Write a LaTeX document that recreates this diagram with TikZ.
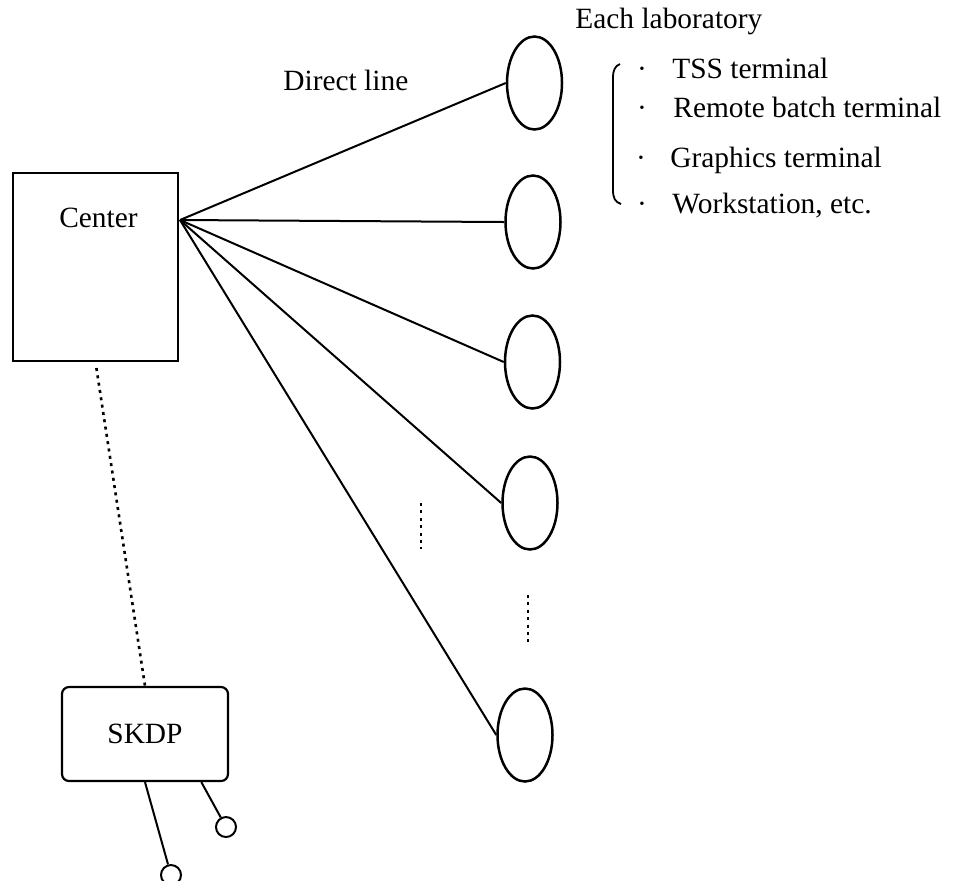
\documentclass[tikz,border=0pt]{standalone}
\usepackage{fontspec}
\setmainfont{Liberation Serif}
\usetikzlibrary{shapes.geometric,calc}
\begin{document}
\begin{tikzpicture}[x=0.5pt,y=-0.5pt,
  txt/.style={font=\fontsize{14.7}{17}\selectfont, inner sep=0pt},
  line/.style={line width=1pt},
  lab/.style={draw, ellipse, line width=1.25pt, minimum width=27.5pt, minimum height=46.5pt, inner sep=0pt},
  box/.style={draw, line width=1.1pt, inner sep=0pt},
  dots/.style={line width=1.3pt, dash pattern=on 1.5pt off 2.2pt},
  term/.style={draw, circle, line width=1pt, minimum size=10pt, inner sep=0pt}]
\useasboundingbox (0,0) rectangle (961,880);

% Center
\node[box, minimum width=82.5pt, minimum height=94pt] (centerbox) at (95.5,267) {};
\node[txt, anchor=base] (centerlabel) at (98.5,227) {Center};
\coordinate (fan) at (180,220);

% laboratories
\node[lab] (e1) at (534.5,83) {};
\node[lab] (e2) at (533,222) {};
\node[lab] (e3) at (532.5,362) {};
\node[lab] (e4) at (530,503) {};
\node[lab] (e5) at (525,735) {};

\draw[line] (fan) -- (e1.west);
\draw[line] (fan) -- (e2.west);
\draw[line] (fan) -- (e3.west);
\draw[line] (fan) -- (e4.west);
\draw[line] (fan) -- (e5.west);

% vertical dotted marks
\coordinate (d1a) at (421,503);
\coordinate (d1b) at (421,549);
\coordinate (d2a) at (528,595);
\coordinate (d2b) at (528,642);
\draw[dots] (d1a) -- (d1b);
\draw[dots] (d2a) -- (d2b);

% labels
\node[txt, anchor=base west] (direct) at (283,90) {Direct line};
\node[txt, anchor=base west] (each) at (575,28) {Each laboratory};

\node[txt, anchor=base] (b1) at (642,78) {·};
\node[txt, anchor=base] (b2) at (642,117) {·};
\node[txt, anchor=base] (b3) at (641,167) {·};
\node[txt, anchor=base] (b4) at (642,213) {·};
\node[txt, anchor=base west] (i1) at (672,78) {TSS terminal};
\node[txt, anchor=base west] (i2) at (673,117) {Remote batch terminal};
\node[txt, anchor=base west] (i3) at (670,167) {Graphics terminal};
\node[txt, anchor=base west] (i4) at (672,213) {Workstation, etc.};

% bracket
\draw[line width=0.9pt] (620,64) .. controls (615,66) and (613,70) .. (613,78) -- (613,190) .. controls (613,198) and (615,202) .. (621,204);

% SKDP
\node[box, rounded corners=3.5pt, minimum width=83pt, minimum height=47pt, font=\fontsize{14.7}{17}\selectfont] (skdp) at (145,734) {SKDP};
\draw[dots, shorten <=3pt] (centerbox.south) -- (skdp.north);

\node[term] (t1) at (171,875) {};
\node[term] (t2) at (226,827) {};
\coordinate (s2) at ($(skdp.south)!0.67!(skdp.south east)$);
\draw[line] (skdp.south) -- (t1);
\draw[line] (s2) -- (t2);
\end{tikzpicture}
\end{document}
